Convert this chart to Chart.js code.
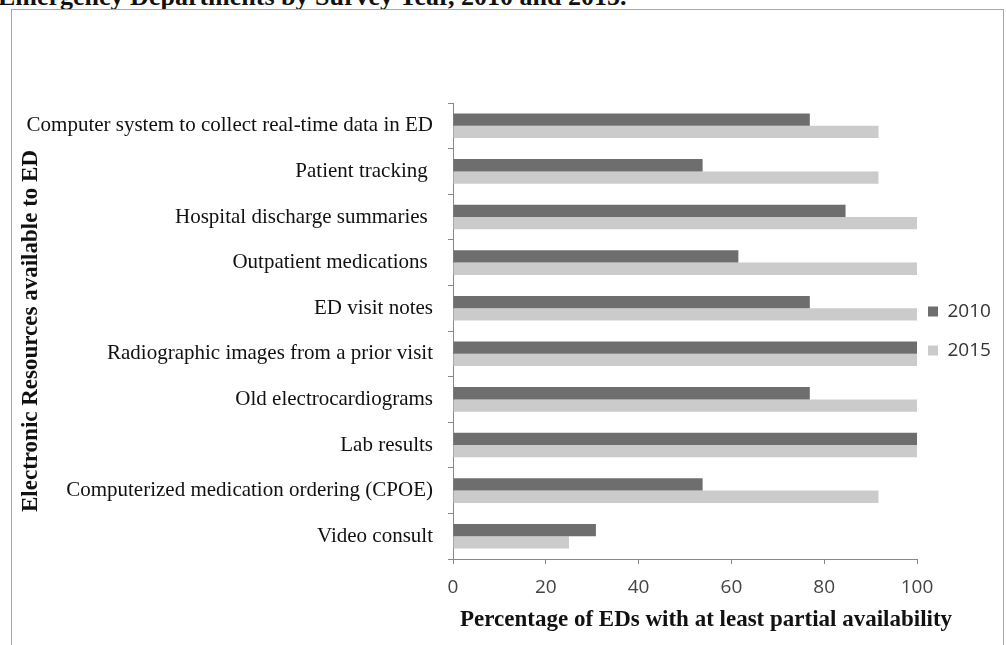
<!DOCTYPE html>
<html>
<head>
<meta charset="utf-8">
<script src="https://cdn.jsdelivr.net/npm/chart.js@4.4.1/dist/chart.umd.min.js"></script>
<style>
  html, body { margin: 0; padding: 0; background: #fff; overflow: hidden; }
  #wrap { position: relative; width: 1006px; height: 645px; }
  #frame { position: absolute; left: 11px; top: 9px; width: 993px; height: 700px;
           border: 1px solid #a8a8a8; box-sizing: border-box; }
  #topTitle { position: absolute; left: -2px; top: -16px; white-space: nowrap;
              font: bold 26px "Liberation Serif", serif; line-height: 25px; color: #111; }
  canvas { position: absolute; left: 0; top: 0; }
</style>
</head>
<body>
<div id="wrap">
  <div id="topTitle">Emergency Departments by Survey Year, 2010 and 2015.</div>
  <div id="frame"></div>
  <canvas id="grafica" width="1006" height="645"></canvas>
</div>
<script>
// categorias y valores (% de EDs)
const categorias = [
  "Computer system to collect real-time data in ED",
  "Patient tracking ",
  "Hospital discharge summaries ",
  "Outpatient medications ",
  "ED visit notes",
  "Radiographic images from a prior visit",
  "Old electrocardiograms",
  "Lab results",
  "Computerized medication ordering (CPOE)",
  "Video consult"
];
const valores2010 = [76.9, 53.8, 84.6, 61.5, 76.9, 100, 76.9, 100, 53.8, 30.8];
const valores2015 = [91.7, 91.7, 100, 100, 100, 100, 100, 100, 91.7, 25];
const ticksX = [0, 20, 40, 60, 80, 100];

const tituloX = "Percentage of EDs with at least partial availability";
const tituloY = "Electronic Resources available to ED";

// titulo del eje x, dibujado a mano (va un poco corrido a la derecha)
const tituloXPlugin = {
  id: "tituloX",
  afterLayout(chart) {
    // la leyenda queda muy pegada a la derecha, la corro un poco
    chart.legend.left -= 9;
    chart.legend.right -= 9;
  },
  afterDraw(chart) {
    const ctx = chart.ctx;
    const area = chart.chartArea;
    ctx.save();
    ctx.font = 'bold 23px "Liberation Serif", serif';
    ctx.fillStyle = "#111";
    ctx.textAlign = "left";
    ctx.textBaseline = "middle";
    ctx.fillText(tituloX, area.left + 7, 620);
    ctx.restore();
  }
};

const ctx = document.getElementById("grafica").getContext("2d");
new Chart(ctx, {
  type: "bar",
  data: {
    labels: categorias,
    datasets: [
      { label: "2010", data: valores2010, backgroundColor: "#6e6e6e" },
      { label: "2015", data: valores2015, backgroundColor: "#cbcbcb" }
    ]
  },
  options: {
    indexAxis: "y",
    responsive: false,
    animation: false,
    devicePixelRatio: 1,
    categoryPercentage: 0.54,
    barPercentage: 1,
    layout: { padding: { top: 103, left: 0, right: 0, bottom: 0 } },
    plugins: {
      legend: {
        position: "right",
        fullSize: false,
        maxWidth: 89,
        labels: {
          boxWidth: 10,
          boxHeight: 10,
          padding: 20,
          color: "#333",
          font: { family: '"Open Sans", sans-serif', size: 19 }
        }
      },
      tooltip: { enabled: false },
      title: { display: false }
    },
    scales: {
      x: {
        min: 0,
        max: 100,
        afterFit: (s) => { s.height = 86; },
        afterBuildTicks: (s) => { s.ticks = ticksX.map(v => ({ value: v })); },
        grid: { drawOnChartArea: false, drawTicks: true, tickLength: 5, color: "#888" },
        border: { color: "#888", width: 1 },
        ticks: {
          padding: 12,
          color: "#444",
          font: { family: '"Open Sans", sans-serif', size: 19 }
        }
      },
      y: {
        afterFit: (s) => { s.width = 453; },
        grid: { drawOnChartArea: false, drawTicks: true, tickLength: 5, color: "#888", offset: true },
        border: { color: "#888", width: 1 },
        ticks: {
          padding: 15,
          color: "#111",
          font: { family: '"Liberation Serif", serif', size: 21 }
        },
        title: {
          display: true,
          text: tituloY,
          color: "#111",
          padding: { top: 17, bottom: 0 },
          font: { family: '"Liberation Serif", serif', size: 23, weight: "bold" }
        }
      }
    }
  },
  plugins: [tituloXPlugin]
});
</script>
</body>
</html>
